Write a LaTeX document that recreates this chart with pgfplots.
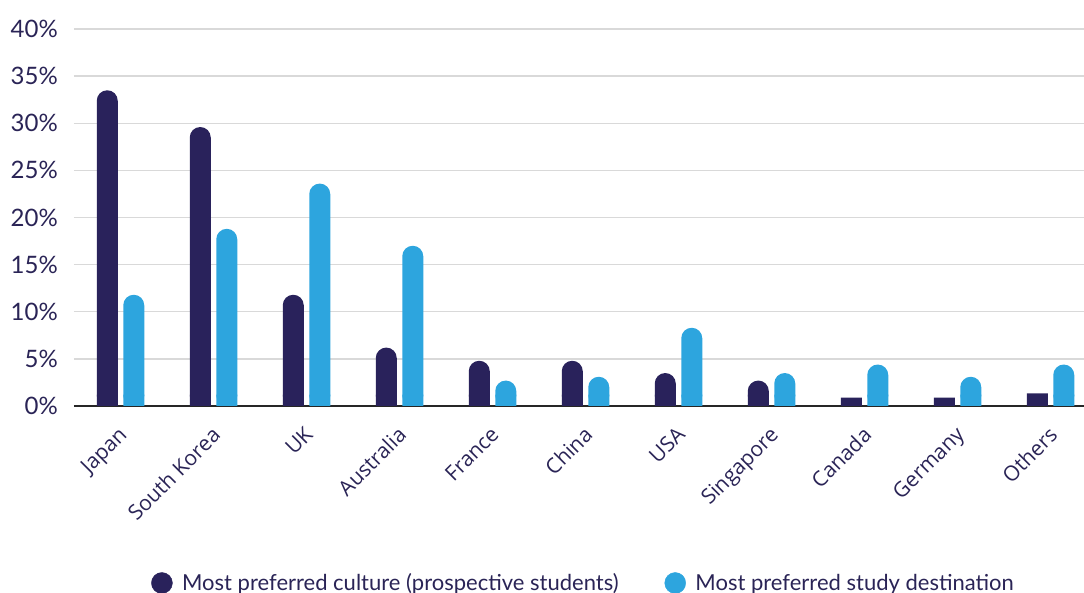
\documentclass[border=0pt]{standalone}
\usepackage{pgfplots}
\pgfplotsset{compat=1.18}
\usepackage{fontspec}
\setmainfont{Lato}
\newfontfamily\catfont{Open Sans}
\definecolor{navy}{HTML}{29225B}
\definecolor{sky}{HTML}{2DA5DE}
\definecolor{txt}{HTML}{2A2456}
\begin{document}
\begin{tikzpicture}
\begin{axis}[
  at={(0,0)}, anchor=south west,
  scale only axis, width=1010pt, height=377pt,
  xmin=-0.5, xmax=10.36, ymin=0, ymax=40,
  ytick={0,5,...,40},
  yticklabels={0\%,5\%,10\%,15\%,20\%,25\%,30\%,35\%,40\%},
  xtick={0,...,10},
  xticklabels={Japan,South Korea,UK,Australia,France,China,USA,Singapore,Canada,Germany,Others},
  major tick length=0pt,
  ymajorgrids, grid style={color=black!15, line width=1.4pt},
  axis x line*=bottom, axis y line*=left,
  x axis line style={draw=black!85, line width=1.6pt, -},
  y axis line style={draw=none},
  yticklabel style={font=\fontsize{24}{28}\selectfont, text=txt, anchor=east, inner sep=0pt, xshift=-16pt},
  xticklabel style={font=\catfont\fontsize{21}{24}\selectfont, text=txt, rotate=45, anchor=north east, inner sep=0pt, xshift=-15.7pt, yshift=-11.4pt},
  ybar, bar width=21pt,
  legend style={at={(0.5045,-0.4695)}, anchor=center, draw=none, fill=none,
    font=\fontsize{22}{26}\selectfont, text=txt, legend columns=2,
    /tikz/every even column/.append style={column sep=44pt}},
  legend cell align=left,
]
% dark series: rounded tops
\addplot[forget plot, fill=navy, draw=none, bar shift=-13.25pt, rounded corners=10.5pt] coordinates {
 (0,33.5) (1,29.6) (2,11.8) (3,6.2) (4,4.8) (5,4.8) (6,3.5) (7,2.7)};
\addplot[forget plot, fill=navy, draw=none, bar shift=-13.25pt] coordinates {
 (0,1.2) (1,1.2) (2,1.2) (3,1.2) (4,1.2) (5,1.2) (6,1.2) (7,1.2)};
\addplot[forget plot, fill=navy, draw=none, bar shift=-13.25pt] coordinates {
 (8,0.9) (9,0.9) (10,1.35)};
% light series
\addplot[forget plot, fill=sky, draw=none, bar shift=13.25pt, rounded corners=10.5pt] coordinates {
 (0,11.8) (1,18.8) (2,23.6) (3,17.0) (4,2.7) (5,3.1) (6,8.3) (7,3.5) (8,4.4) (9,3.1) (10,4.4)};
\addplot[forget plot, fill=sky, draw=none, bar shift=13.25pt] coordinates {
 (0,1.2) (1,1.2) (2,1.2) (3,1.2) (4,1.2) (5,1.2) (6,1.2) (7,1.2) (8,1.2) (9,1.2) (10,1.2)};
\addlegendimage{legend image code/.code={\fill[navy] (0pt,0pt) circle (10.5pt); \path (18pt,0pt);}}
\addlegendentry{Most preferred culture (prospective students)}
\addlegendimage{legend image code/.code={\fill[sky] (0pt,0pt) circle (10.5pt); \path (18pt,0pt);}}
\addlegendentry{Most preferred study destination}
\end{axis}
\pgfresetboundingbox
\useasboundingbox (-74pt,-187pt) rectangle (1010pt,406pt);
\end{tikzpicture}
\end{document}
